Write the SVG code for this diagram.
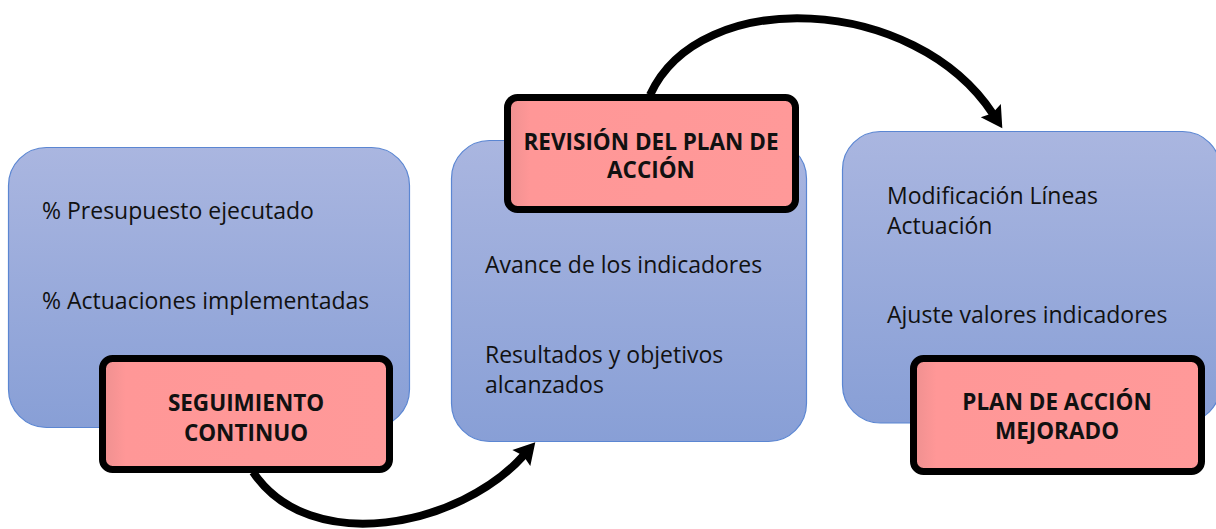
<svg xmlns="http://www.w3.org/2000/svg" width="1216" height="529" viewBox="0 0 1216 529">
<defs>
<linearGradient id="blueGrad" x1="0" y1="0" x2="0" y2="1">
<stop offset="0" stop-color="#AAB6E0"/>
<stop offset="1" stop-color="#889FD6"/>
</linearGradient>
<linearGradient id="redGrad" x1="0" y1="0" x2="1" y2="0">
<stop offset="0" stop-color="#EE9090"/>
<stop offset="0.08" stop-color="#FF9797"/>
<stop offset="1" stop-color="#FF9999"/>
</linearGradient>
<marker id="arrow" markerUnits="userSpaceOnUse" markerWidth="22" markerHeight="24" refX="4" refY="12" orient="auto" overflow="visible">
<path d="M0,0 L21,12 L0,24 L3,12 Z" fill="#000"/>
</marker>
</defs>
<style>
.blue{fill:url(#blueGrad);stroke:#5B86D2;stroke-width:1.2}
.red{fill:url(#redGrad);stroke:#000;stroke-width:7}
.txt{font-family:"Open Sans","Liberation Sans",sans-serif;font-size:23px;fill:#111}
.lbl{font-family:"Open Sans","Liberation Sans",sans-serif;font-size:22.5px;font-weight:bold;fill:#111;text-anchor:middle}
.conn{fill:none;stroke:#000;stroke-width:8;marker-end:url(#arrow)}
</style>
<rect width="1216" height="529" fill="#fff"/>

<g id="node-seguimiento-box">
<rect class="blue" x="8.5" y="147.5" width="401" height="280" rx="38"/>
<text class="txt" x="42" y="219">% Presupuesto ejecutado</text>
<text class="txt" x="42" y="309">% Actuaciones implementadas</text>
</g>
<g id="node-revision-box">
<rect class="blue" x="451.5" y="140.5" width="355" height="301" rx="38"/>
<text class="txt" x="485" y="273">Avance de los indicadores</text>
<text class="txt" x="485" y="363">Resultados y objetivos</text>
<text class="txt" x="485" y="393">alcanzados</text>
</g>
<g id="node-mejorado-box">
<rect class="blue" x="842.5" y="131.5" width="378" height="291.5" rx="38"/>
<text class="txt" x="887" y="204">Modificación Líneas</text>
<text class="txt" x="887" y="234">Actuación</text>
<text class="txt" x="887" y="323">Ajuste valores indicadores</text>
</g>

<g id="connectors">
<path class="conn" d="M253,472 C310,557 460,527 524,455"/>
<path class="conn" d="M650,95 C700,-15 915,-5 993,114"/>
</g>

<g id="node-seguimiento">
<rect class="red" x="102.5" y="358.5" width="287" height="111" rx="10"/>
<text class="lbl" x="246" y="411">SEGUIMIENTO</text>
<text class="lbl" x="246" y="441">CONTINUO</text>
</g>
<g id="node-revision">
<rect class="red" x="507.5" y="97.5" width="288" height="112" rx="10"/>
<text class="lbl" x="651" y="150">REVISIÓN DEL PLAN DE</text>
<text class="lbl" x="651" y="178">ACCIÓN</text>
</g>
<g id="node-mejorado">
<rect class="red" x="913.5" y="358.5" width="288" height="113" rx="10"/>
<text class="lbl" x="1057" y="410">PLAN DE ACCIÓN</text>
<text class="lbl" x="1057" y="439">MEJORADO</text>
</g>
</svg>
